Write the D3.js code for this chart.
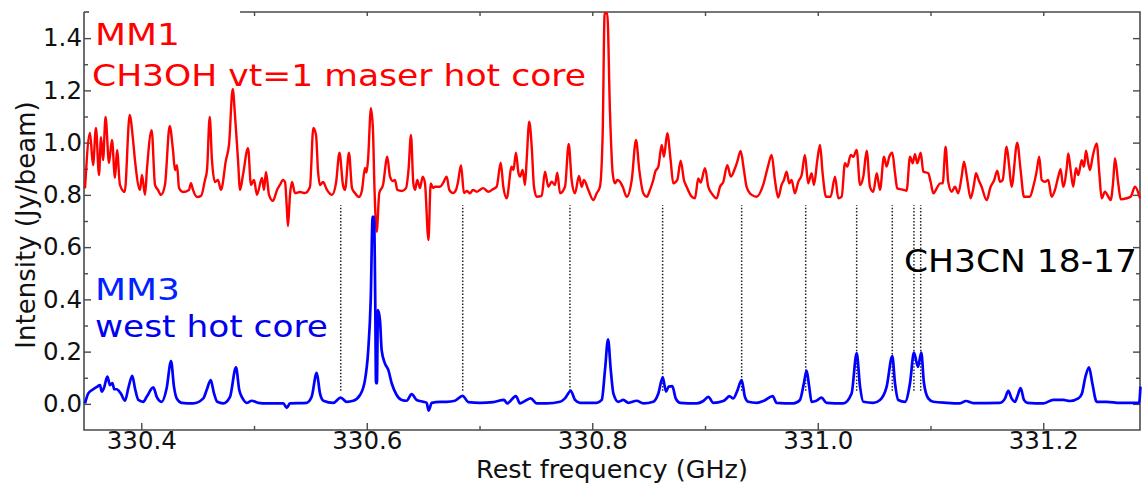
<!DOCTYPE html>
<html><head><meta charset="utf-8">
<script src="https://cdn.jsdelivr.net/npm/d3@7"></script>
<style>body{margin:0;background:#fff}svg{display:block}text{font-family:"DejaVu Sans",sans-serif}</style>
</head><body><svg id="c" width="1142" height="484"></svg>
<script>
// ---------- data ----------
const xMajorTicks = [330.4, 330.6, 330.8, 331.0, 331.2];
const xMinorTicks = [330.5, 330.7, 330.9, 331.1];
const yMajorTicks = [0.0, 0.2, 0.4, 0.6, 0.8, 1.0, 1.2, 1.4];
const yMinorTicks = [0.1, 0.3, 0.5, 0.7, 0.9, 1.1, 1.3];
const ch3cnFreqs = [330.5769, 330.6851, 330.7802, 330.8624, 330.9325, 330.9893, 331.0345, 331.0661, 331.0853, 331.0913];
const ch3cnSpan = [0.05, 0.76];
const xDomain = [330.3492, 331.2858];
const yDomain = [-0.1, 1.5];

// MM1 spectrum: [rest frequency GHz, intensity Jy/beam]
const mm1Spectrum = [
[330.3501,0.825],[330.3545,1.037],[330.3572,0.914],[330.3598,1.056],[330.3625,0.876],[330.3643,1.021],[330.3661,0.933],[330.3683,1.098],
[330.3714,0.922],[330.3740,1.010],[330.3767,0.865],[330.3785,0.972],[330.3811,0.838],[330.3853,0.811],[330.3897,1.106],[330.3927,1.010],
[330.3944,0.933],[330.3989,0.819],[330.4006,0.876],[330.4033,0.800],[330.4051,0.903],[330.4092,1.048],[330.4122,0.838],[330.4148,0.819],
[330.4175,0.800],[330.4210,0.838],[330.4252,1.064],[330.4281,0.972],[330.4299,0.895],[330.4317,0.914],[330.4335,0.826],[330.4370,0.811],
[330.4423,0.819],[330.4441,0.845],[330.4459,0.819],[330.4494,0.792],[330.4530,0.796],[330.4565,0.857],[330.4583,0.895],[330.4607,1.098],
[330.4627,0.933],[330.4654,0.849],[330.4680,0.857],[330.4707,0.819],[330.4751,0.933],[330.4778,0.991],[330.4811,1.205],[330.4831,1.106],
[330.4858,0.933],[330.4876,0.819],[330.4902,0.876],[330.4947,0.979],[330.4973,0.838],[330.5000,0.857],[330.5026,0.800],[330.5071,0.865],
[330.5088,0.819],[330.5106,0.888],[330.5133,0.800],[330.5168,0.777],[330.5204,0.819],[330.5230,0.838],[330.5257,0.857],[330.5275,0.849],
[330.5292,0.742],[330.5301,0.681],[330.5319,0.800],[330.5337,0.849],[330.5363,0.807],[330.5408,0.811],[330.5452,0.807],[330.5496,0.830],
[330.5526,1.056],[330.5550,1.029],[330.5567,0.895],[330.5585,0.838],[330.5612,0.849],[330.5647,0.819],[330.5691,0.800],[330.5727,0.845],
[330.5758,0.961],[330.5789,0.838],[330.5807,0.819],[330.5842,0.961],[330.5869,0.826],[330.5895,0.807],[330.5931,0.792],[330.5958,0.819],
[330.5984,0.903],[330.5997,0.885],[330.6011,0.933],[330.6037,1.132],[330.6055,1.048],[330.6068,0.830],[330.6088,0.659],[330.6111,0.807],
[330.6144,0.838],[330.6182,0.946],[330.6206,0.870],[330.6233,0.853],[330.6250,0.857],[330.6271,0.819],[330.6312,0.815],[330.6348,0.826],
[330.6370,0.895],[330.6392,1.029],[330.6413,0.844],[330.6428,0.819],[330.6448,0.857],[330.6472,0.826],[330.6496,0.870],[330.6516,0.845],
[330.6547,0.627],[330.6567,0.844],[330.6588,0.826],[330.6605,0.831],[330.6649,0.831],[330.6676,0.845],[330.6709,0.870],[330.6732,0.819],
[330.6765,0.807],[330.6791,0.819],[330.6809,0.849],[330.6836,0.914],[330.6862,0.807],[330.6889,0.815],[330.6915,0.806],[330.6942,0.819],
[330.6975,0.812],[330.7004,0.819],[330.7031,0.826],[330.7078,0.812],[330.7120,0.822],[330.7152,0.831],[330.7188,0.923],[330.7211,0.831],
[330.7241,0.787],[330.7285,0.908],[330.7301,0.895],[330.7323,0.961],[330.7345,0.885],[330.7359,0.870],[330.7383,0.895],[330.7403,0.838],
[330.7418,0.933],[330.7441,1.080],[330.7463,0.984],[330.7483,0.831],[330.7507,0.793],[330.7551,0.796],[330.7581,0.889],[330.7610,0.831],
[330.7640,0.850],[330.7669,0.838],[330.7690,0.885],[330.7714,0.806],[330.7758,0.831],[330.7791,0.995],[330.7817,0.857],[330.7847,0.806],
[330.7882,0.872],[330.7906,0.831],[330.7926,0.857],[330.7965,0.819],[330.8009,0.780],[330.8039,0.806],[330.8068,0.831],[330.8092,1.029],
[330.8110,1.495],[330.8133,1.495],[330.8157,1.117],[330.8181,0.883],[330.8201,0.844],[330.8222,0.857],[330.8246,0.850],[330.8270,0.831],
[330.8305,0.793],[330.8350,0.857],[330.8388,1.010],[330.8417,0.895],[330.8453,0.806],[330.8483,0.793],[330.8512,0.819],[330.8541,0.857],
[330.8559,0.889],[330.8586,0.908],[330.8616,0.991],[330.8636,0.946],[330.8665,1.036],[330.8695,0.933],[330.8718,0.844],[330.8754,0.857],
[330.8784,0.931],[330.8813,0.857],[330.8837,0.831],[330.8882,0.793],[330.8911,0.787],[330.8940,0.863],[330.8961,0.847],[330.9000,0.902],
[330.9029,0.831],[330.9059,0.806],[330.9104,0.787],[330.9133,0.831],[330.9162,0.850],[330.9198,0.914],[330.9228,0.870],[330.9266,0.902],
[330.9286,0.927],[330.9316,0.968],[330.9345,0.895],[330.9369,0.831],[330.9414,0.800],[330.9458,0.793],[330.9516,0.838],[330.9558,0.908],
[330.9591,0.953],[330.9620,0.857],[330.9649,0.790],[330.9679,0.838],[330.9700,0.857],[330.9724,0.889],[330.9747,0.844],[330.9768,0.857],
[330.9797,0.806],[330.9827,0.850],[330.9857,0.876],[330.9886,0.953],[330.9915,0.844],[330.9945,0.883],[330.9966,0.838],[330.9996,0.933],
[331.0020,0.991],[331.0043,0.883],[331.0073,0.793],[331.0114,0.793],[331.0153,0.870],[331.0182,0.787],[331.0212,0.793],[331.0241,0.921],
[331.0262,0.908],[331.0292,0.953],[331.0315,0.946],[331.0345,0.972],[331.0375,0.838],[331.0404,0.870],[331.0434,0.969],[331.0463,0.831],
[331.0493,0.812],[331.0523,0.883],[331.0552,0.819],[331.0587,0.946],[331.0611,0.908],[331.0634,0.946],[331.0661,0.961],[331.0685,0.883],
[331.0705,0.825],[331.0744,0.821],[331.0788,0.816],[331.0818,0.946],[331.0842,0.921],[331.0862,0.956],[331.0883,0.921],[331.0913,0.961],
[331.0936,0.889],[331.0980,0.883],[331.1001,0.850],[331.1025,0.806],[331.1055,0.825],[331.1084,0.844],[331.1108,0.844],[331.1134,0.984],
[331.1157,0.850],[331.1188,0.812],[331.1217,0.831],[331.1246,0.806],[331.1276,0.870],[331.1297,0.927],[331.1326,0.857],[331.1356,0.787],
[331.1385,0.838],[331.1403,0.883],[331.1427,0.857],[331.1453,0.831],[331.1498,0.780],[331.1533,0.831],[331.1565,0.857],[331.1592,0.893],
[331.1616,0.850],[331.1640,0.857],[331.1675,0.984],[331.1698,0.908],[331.1719,0.831],[331.1769,1.000],[331.1799,0.895],[331.1829,0.793],
[331.1882,0.793],[331.1911,0.831],[331.1941,0.889],[331.1964,0.946],[331.1986,0.857],[331.2015,0.850],[331.2044,0.857],[331.2074,0.793],
[331.2104,0.819],[331.2133,0.870],[331.2154,0.898],[331.2177,0.831],[331.2208,0.902],[331.2222,0.959],[331.2243,0.895],[331.2266,0.831],
[331.2290,0.902],[331.2311,0.876],[331.2341,0.933],[331.2361,0.908],[331.2379,0.969],[331.2399,0.921],[331.2414,0.895],[331.2438,0.946],
[331.2474,0.997],[331.2497,0.883],[331.2518,0.787],[331.2547,0.812],[331.2577,0.793],[331.2598,0.780],[331.2621,0.857],[331.2636,0.940],
[331.2665,0.844],[331.2687,0.783],[331.2740,0.787],[331.2775,0.793],[331.2814,0.831],[331.2858,0.787]
];

// MM3 spectrum: [rest frequency GHz, intensity Jy/beam]
const mm3Spectrum = [
[330.3501,0.002],[330.3530,0.040],[330.3574,0.056],[330.3607,0.065],[330.3634,0.072],[330.3649,0.047],[330.3669,0.061],[330.3699,0.104],
[330.3723,0.072],[330.3743,0.080],[330.3761,0.056],[330.3782,0.056],[330.3818,0.040],[330.3856,0.012],[330.3885,0.060],[330.3920,0.107],
[330.3944,0.060],[330.3974,0.015],[330.4018,0.008],[330.4048,0.027],[330.4107,0.063],[330.4137,0.027],[330.4181,0.008],[330.4225,0.060],
[330.4264,0.164],[330.4290,0.066],[330.4314,0.021],[330.4358,0.004],[330.4461,0.002],[330.4550,0.021],[330.4580,0.053],[330.4616,0.091],
[330.4645,0.040],[330.4674,0.008],[330.4727,0.002],[330.4787,0.027],[330.4840,0.140],[330.4869,0.053],[330.4899,0.021],[330.4935,0.004],
[330.4979,0.012],[330.5038,0.004],[330.5112,0.002],[330.5260,0.002],[330.5290,-0.015],[330.5319,0.002],[330.5467,0.004],[330.5511,0.027],
[330.5556,0.119],[330.5585,0.040],[330.5615,0.012],[330.5703,0.004],[330.5769,0.024],[330.5822,0.008],[330.5880,0.012],[330.5940,0.034],
[330.5984,0.091],[330.6013,0.206],[330.6035,0.398],[330.6052,0.716],[330.6064,0.716],[330.6075,0.398],[330.6082,0.079],[330.6090,0.079],
[330.6099,0.359],[330.6117,0.321],[330.6132,0.206],[330.6161,0.155],[330.6191,0.130],[330.6221,0.079],[330.6265,0.034],[330.6310,0.015],
[330.6354,0.012],[330.6398,0.037],[330.6443,0.015],[330.6501,0.008],[330.6531,0.004],[330.6549,-0.026],[330.6576,0.004],[330.6649,0.008],
[330.6709,0.008],[330.6782,0.012],[330.6850,0.031],[330.6900,0.007],[330.7004,0.004],[330.7122,0.007],[330.7217,0.015],[330.7246,0.002],
[330.7323,0.030],[330.7359,0.002],[330.7403,0.011],[330.7454,0.021],[330.7507,0.002],[330.7596,0.002],[330.7714,0.008],[330.7758,0.021],
[330.7809,0.050],[330.7847,0.015],[330.7891,0.004],[330.8039,0.004],[330.8084,0.015],[330.8113,0.130],[330.8140,0.247],[330.8164,0.130],
[330.8187,0.040],[330.8231,0.008],[330.8275,0.015],[330.8320,0.004],[330.8394,0.012],[330.8453,0.002],[330.8541,0.008],[330.8586,0.040],
[330.8625,0.102],[330.8654,0.047],[330.8678,0.066],[330.8710,0.068],[330.8740,0.021],[330.8778,0.004],[330.8926,0.002],[330.8985,0.011],
[330.9029,0.027],[330.9074,0.004],[330.9162,0.011],[330.9192,0.021],[330.9215,0.030],[330.9251,0.021],[330.9286,0.050],[330.9325,0.091],
[330.9354,0.027],[330.9383,0.008],[330.9458,0.004],[330.9523,0.012],[330.9600,0.030],[330.9635,0.004],[330.9783,0.002],[330.9842,0.015],
[330.9877,0.079],[330.9901,0.127],[330.9924,0.066],[330.9945,0.008],[330.9989,0.012],[331.0033,0.024],[331.0078,0.004],[331.0226,0.002],
[331.0300,0.040],[331.0345,0.194],[331.0375,0.066],[331.0404,0.008],[331.0493,0.004],[331.0552,0.015],[331.0611,0.066],[331.0661,0.183],
[331.0685,0.079],[331.0714,0.015],[331.0774,0.008],[331.0818,0.079],[331.0853,0.196],[331.0889,0.142],[331.0918,0.196],[331.0942,0.079],
[331.0980,0.021],[331.1025,0.008],[331.1143,0.004],[331.1261,0.002],[331.1315,0.011],[331.1379,0.003],[331.1616,0.004],[331.1661,0.021],
[331.1690,0.050],[331.1719,0.021],[331.1749,0.008],[331.1769,0.027],[331.1799,0.060],[331.1829,0.015],[331.1858,0.004],[331.2000,0.002],
[331.2089,0.015],[331.2177,0.015],[331.2237,0.011],[331.2311,0.021],[331.2343,0.040],[331.2373,0.102],[331.2406,0.140],[331.2435,0.079],
[331.2474,0.008],[331.2563,0.008],[331.2681,0.004],[331.2850,0.004],[331.2862,0.066]
];

// ---------- drawing ----------
const svg = d3.select("#c");
const L = 84, R = 1140, T = 12, B = 430;
const x = d3.scaleLinear().domain(xDomain).range([L, R]);
const y = d3.scaleLinear().domain(yDomain).range([B, T]);
const axisColor = "#4a4a4a";
const tickFont = 24.5;

function styleAxis(g) {
  g.select(".domain").remove();
  g.selectAll(".tick line").attr("stroke", axisColor).attr("stroke-width", 1.4);
  g.selectAll("text").attr("font-family", "DejaVu Sans").attr("font-size", tickFont).attr("fill", "#111");
  g.attr("font-family", null).attr("font-size", null);
}

// bottom
svg.append("g").attr("transform", `translate(0,${B})`)
  .call(d3.axisBottom(x).tickValues(xMajorTicks).tickSize(-7).tickPadding(2).tickFormat(d3.format(".1f")))
  .call(styleAxis);
svg.append("g").attr("transform", `translate(0,${B})`)
  .call(d3.axisBottom(x).tickValues(xMinorTicks).tickSize(-4).tickFormat(""))
  .call(styleAxis);
// top (only where the top spine is visible)
svg.append("g").attr("transform", `translate(0,${T})`)
  .call(d3.axisTop(x).tickValues(xMajorTicks.concat(xMinorTicks).filter(v => v > 330.45)).tickSize(-4).tickFormat(""))
  .call(styleAxis);
// left
svg.append("g").attr("transform", `translate(${L},0)`)
  .call(d3.axisLeft(y).tickValues(yMajorTicks).tickSize(-7).tickPadding(2).tickFormat(d3.format(".1f")))
  .call(styleAxis);
svg.append("g").attr("transform", `translate(${L},0)`)
  .call(d3.axisLeft(y).tickValues(yMinorTicks).tickSize(-4).tickFormat(""))
  .call(styleAxis);
// right
svg.append("g").attr("transform", `translate(${R},0)`)
  .call(d3.axisRight(y).tickValues(yMajorTicks).tickSize(-7).tickFormat(""))
  .call(styleAxis);
svg.append("g").attr("transform", `translate(${R},0)`)
  .call(d3.axisRight(y).tickValues(yMinorTicks).tickSize(-4).tickFormat(""))
  .call(styleAxis);

// spines (top spine partially hidden behind the label box, as in the original)
const spine = svg.append("g").attr("stroke", axisColor).attr("stroke-width", 1.6).attr("fill", "none");
spine.append("path").attr("d", `M${L},${T}V${B}H${R}V${T}H240`);
spine.append("path").attr("d", `M${L},${T}H${L + 5}`);

// CH3CN markers
svg.append("g").selectAll("line").data(ch3cnFreqs).join("line")
  .attr("x1", d => x(d)).attr("x2", d => x(d))
  .attr("y1", y(ch3cnSpan[0])).attr("y2", y(ch3cnSpan[1]))
  .attr("stroke", "#222").attr("stroke-width", 1.5).attr("stroke-dasharray", "1.5,1.8");

// spectra
const line = d3.line().x(d => x(d[0])).y(d => y(d[1])).curve(d3.curveMonotoneX);
svg.append("path").datum(mm1Spectrum).attr("d", line)
  .attr("fill", "none").attr("stroke", "#ff0000").attr("stroke-width", 2.4).attr("stroke-linejoin", "round");
svg.append("path").datum(mm3Spectrum).attr("d", line)
  .attr("fill", "none").attr("stroke", "#0000ff").attr("stroke-width", 2.7).attr("stroke-linejoin", "round");

// annotations
function label(t, xx, yy, size, color, len) {
  svg.append("text").attr("x", xx).attr("y", yy).attr("font-size", size).attr("fill", color)
    .attr("textLength", len).attr("lengthAdjust", "spacingAndGlyphs").text(t);
}
label("MM1", 95, 44.5, 30, "#ff0000", 85);
label("CH3OH vt=1 maser hot core", 92, 86, 30, "#ff0000", 494);
label("MM3", 95, 300, 30, "#0022ff", 85);
label("west hot core", 95, 337, 30, "#0000ee", 233);
label("CH3CN 18-17", 904, 271.5, 32, "#000", 233);

// axis titles
svg.append("text").attr("transform", "translate(35,225) rotate(-90)").attr("text-anchor", "middle")
  .attr("font-size", 26).attr("fill", "#111").text("Intensity (Jy/beam)");
svg.append("text").attr("x", (L + R) / 2).attr("y", 477.5).attr("text-anchor", "middle")
  .attr("font-size", 25.5).attr("fill", "#111").text("Rest frequency (GHz)");
</script></body></html>
